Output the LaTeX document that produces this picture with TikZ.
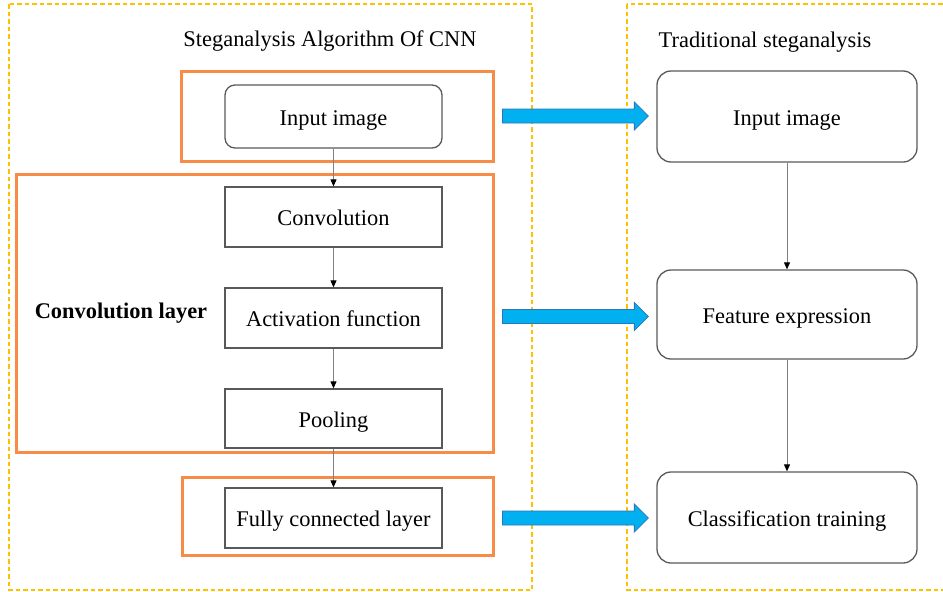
\documentclass[tikz,border=0pt]{standalone}
\usepackage{fontspec}
\setmainfont{Liberation Serif}
\usetikzlibrary{arrows.meta,calc}
\definecolor{panelline}{RGB}{255,192,0}
\definecolor{groupline}{RGB}{247,140,70}
\definecolor{flowblue}{RGB}{0,176,240}
\definecolor{flowedge}{RGB}{46,117,182}
\definecolor{boxline}{RGB}{89,89,89}
% block arrow from #1 (tail centre) to #2 (tip)
\newcommand\flowarrow[2]{%
  \path[flow] ($(#1)+(0,-7)$) -- ($(#2)+(-14,-7)$) -- ($(#2)+(-14,-14)$) -- (#2)
    -- ($(#2)+(-14,14)$) -- ($(#2)+(-14,7)$) -- ($(#1)+(0,7)$) -- cycle;}
\begin{document}
\begin{tikzpicture}[x=1pt,y=-1pt,
  font=\fontsize{22.4}{26}\selectfont,
  panel/.style={draw=panelline,line width=1.2pt,dash pattern=on 4.5pt off 3pt},
  group/.style={draw=groupline,line width=3pt,inner sep=0pt},
  boxtext/.style={text height=20.5pt,text depth=3pt},
  stepbox/.style={draw=boxline,line width=1.3pt,inner sep=0pt,minimum width=217pt,minimum height=60pt,boxtext},
  roundbox/.style={stepbox,rounded corners=10pt},
  bigbox/.style={draw=boxline,line width=1.3pt,rounded corners=14pt,minimum width=260pt,minimum height=90pt,inner sep=0pt,boxtext},
  link/.style={draw=gray,line width=0.9pt,-{Triangle[black,length=7pt,width=6pt]}},
  flow/.style={fill=flowblue,draw=flowedge,line width=0.8pt}
]
\useasboundingbox (0,0) rectangle (943,592);
% dashed panels
\begin{scope}
  \clip (0,0) rectangle (943,592);
  \draw[panel] (9,4) rectangle (532,590);
  \draw[panel] (627,4) rectangle (960,590);
\end{scope}

% panel titles
\node (t1) at (330,41) {Steganalysis Algorithm Of CNN};
\node (t2) at (765,42) {Traditional steganalysis};

% orange groups
\node[group,minimum width=312pt,minimum height=90pt] (g1) at (337,116) {};
\node[group,minimum width=477pt,minimum height=278pt] (g2) at (254.5,313) {};
\node[group,minimum width=311pt,minimum height=78pt] (g3) at (337.5,516) {};

% CNN pipeline
\node[roundbox,minimum height=63pt] (in1) at (333.5,116.5) {Input image};
\node[stepbox] (conv) at (333.5,217) {Convolution};
\node[stepbox] (act) at (333.5,318) {Activation function};
\node[stepbox,minimum height=59pt] (pool) at (333.5,418.5) {Pooling};
\node[stepbox] (fc) at (333.5,518) {Fully connected layer};
\node[font=\fontsize{22.4}{26}\selectfont\bfseries,boxtext] (cl) at (121,310) {Convolution layer};

% traditional pipeline
\node[bigbox,minimum height=91pt] (in2) at (787,116.5) {Input image};
\node[bigbox,minimum height=89pt] (feat) at (787,314.5) {Feature expression};
\node[bigbox,minimum height=91pt] (cls) at (787,517.5) {Classification training};

% connectors
\draw[link] (in1) -- (conv);
\draw[link] (conv) -- (act);
\draw[link] (act) -- (pool);
\draw[link] (pool) -- (fc);
\draw[link] (in2) -- (feat);
\draw[link] (feat) -- (cls);

% correspondence arrows
\coordinate (a1s) at ($(g1.east)+(8,0)$);
\coordinate (a1e) at ($(g1.east -| in2.west)+(-8,0)$);
\coordinate (a2s) at ($(act.east -| g2.east)+(8,-1.5)$);
\coordinate (a2e) at ($(act.east -| feat.west)+(-8,-1.5)$);
\coordinate (a3s) at ($(fc.east -| g3.east)+(8,0)$);
\coordinate (a3e) at ($(fc.east -| cls.west)+(-8,0)$);
\flowarrow{a1s}{a1e}
\flowarrow{a2s}{a2e}
\flowarrow{a3s}{a3e}
\end{tikzpicture}
\end{document}
